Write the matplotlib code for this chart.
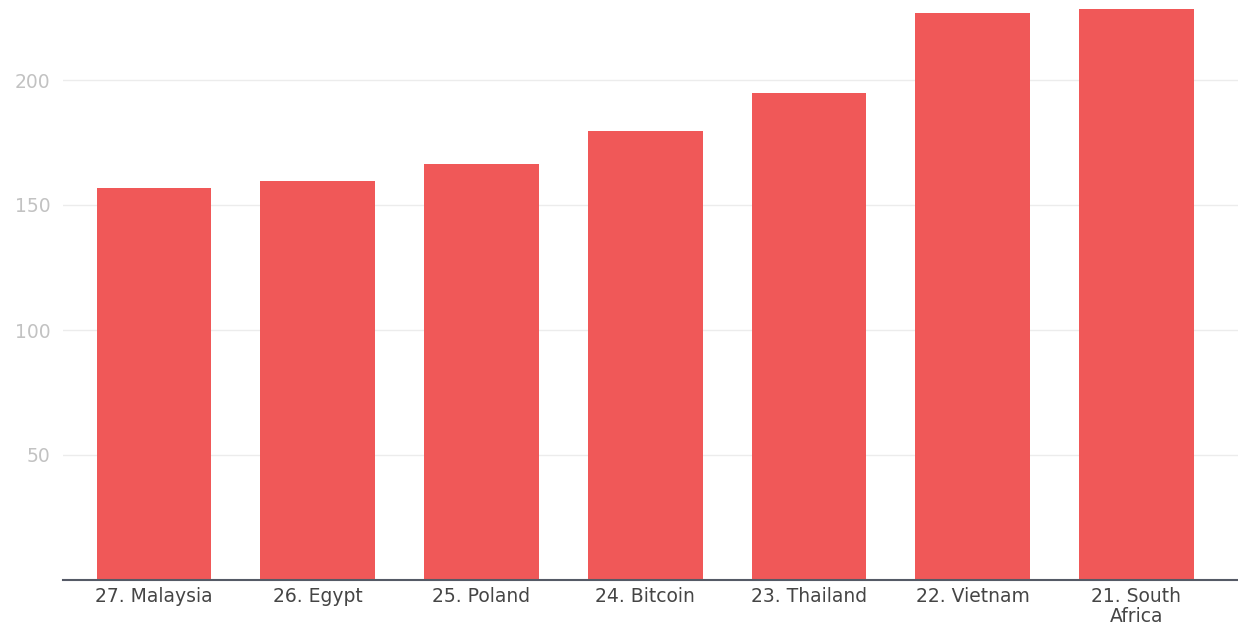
import matplotlib
matplotlib.use("Agg")
import matplotlib.pyplot as plt

# Ranked entries (lowest rank number on the right)
categories = ["27. Malaysia", "26. Egypt", "25. Poland", "24. Bitcoin",
              "23. Thailand", "22. Vietnam", "21. South\nAfrica"]
values = [157, 159.5, 166.5, 179.5, 195, 227, 228.5]
y_ticks = [50, 100, 150, 200]

W, H = 1238, 633
fig = plt.figure(figsize=(W / 100, H / 100), dpi=100)
fig.patch.set_facecolor("white")

ax = fig.add_axes([63 / W, 53 / H, 1 - 63 / W, 580 / H])
x = list(range(len(categories)))
ax.bar(x, values, width=0.7, color="#F05858", zorder=2)

ax.set_xlim(-0.556, 6.62)
ax.set_ylim(0, 232)
ax.set_yticks(y_ticks)
ax.set_yticklabels([str(v) for v in y_ticks])
ax.set_xticks(x)
ax.set_xticklabels(categories)

ax.grid(axis="y", color="#ececec", linewidth=1, zorder=0)
ax.grid(axis="x", visible=False)

for side in ["top", "right", "left"]:
    ax.spines[side].set_visible(False)
ax.spines["bottom"].set_color("#555a66")
ax.spines["bottom"].set_linewidth(1.5)
ax.spines["bottom"].set_zorder(3)

ax.tick_params(axis="y", length=0, pad=9, labelsize=13.5, labelcolor="#c2c2c2")
ax.tick_params(axis="x", length=0, pad=5, labelsize=13.5, labelcolor="#454545")
for lab in ax.get_xticklabels():
    lab.set_family("DejaVu Sans")
    lab.set_linespacing(1.05)
for lab in ax.get_yticklabels():
    lab.set_family("DejaVu Sans")

fig.savefig("out.png", dpi=100, facecolor="white")
